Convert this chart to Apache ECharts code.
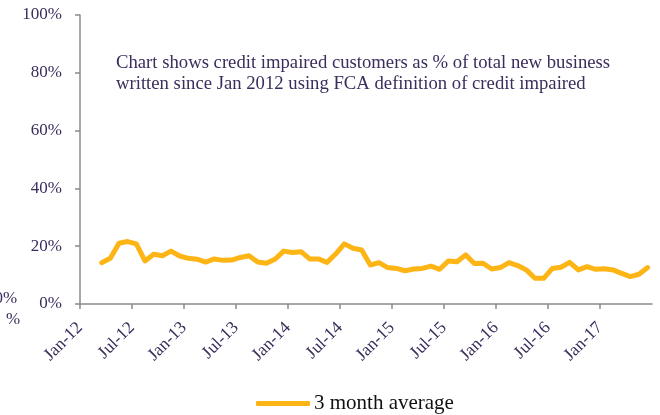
<!DOCTYPE html>
<html>
<head>
<meta charset="utf-8">
<script src="https://cdn.jsdelivr.net/npm/echarts@6/dist/echarts.min.js"></script>
<style>
  html, body { margin: 0; padding: 0; background: #ffffff; }
  #chart { width: 660px; height: 415px; }
</style>
</head>
<body>
<div id="chart"></div>
<script>
// Months on the axis: Jan-12 through Jun-17 (66 months)
const monthCount = 66;

// Tick labels every six months
const tickLabels = ['Jan-12','Jul-12','Jan-13','Jul-13','Jan-14','Jul-14','Jan-15','Jul-15','Jan-16','Jul-16','Jan-17'];

// 3 month average, % of new business, first value at Mar-12
const firstMonthIndex = 2;
const avg3m = [
  14.3, 15.8, 21.0, 21.6, 20.8, 14.9, 17.2, 16.7, 18.3, 16.6,
  15.8, 15.5, 14.5, 15.6, 15.1, 15.2, 16.1, 16.7, 14.5, 14.1,
  15.5, 18.3, 17.8, 18.1, 15.6, 15.6, 14.4, 17.3, 20.8, 19.3,
  18.7, 13.5, 14.3, 12.6, 12.3, 11.5, 12.1, 12.3, 13.1, 12.0,
  14.9, 14.6, 17.0, 14.0, 14.1, 12.1, 12.6, 14.3, 13.3, 11.8,
  8.9, 8.9, 12.3, 12.7, 14.4, 11.8, 12.9, 12.0, 12.2, 11.8,
  10.6, 9.5, 10.3, 12.6
];

const yTicks = [0, 20, 40, 60, 80, 100];

// each month sits in the middle of its band on the month axis
const points = avg3m.map((v, i) => [firstMonthIndex + i + 0.5, v]);

const purple = '#3b2d5c';
const axisGrey = '#8a8a8a';
const serif = '"Liberation Serif", "Times New Roman", serif';

const chart = echarts.init(document.getElementById('chart'), null, { renderer: 'canvas' });

chart.setOption({
  animation: false,
  backgroundColor: '#ffffff',
  grid: { left: 80, right: 8, top: 15, bottom: 111, containLabel: false },
  xAxis: {
    type: 'value',
    min: 0,
    max: monthCount,
    interval: 6,
    splitLine: { show: false },
    axisLine: { show: true, lineStyle: { color: axisGrey, width: 1.5 } },
    axisTick: { show: true, length: 5, lineStyle: { color: axisGrey, width: 1.5 } },
    axisLabel: {
      rotate: 45,
      margin: 21,
      padding: [18, 0, 0, 0],
      color: purple,
      fontFamily: serif,
      fontSize: 17.5,
      showMaxLabel: false,
      formatter: function (v) {
        const idx = Math.round(v / 6);
        return tickLabels[idx] || '';
      }
    }
  },
  yAxis: {
    type: 'value',
    min: 0,
    max: 100,
    interval: 20,
    splitLine: { show: false },
    axisLine: { show: true, lineStyle: { color: axisGrey, width: 1.5 } },
    axisTick: { show: true, inside: false, length: 5, lineStyle: { color: axisGrey, width: 1.5 } },
    axisLabel: {
      margin: 18,
      color: purple,
      fontFamily: serif,
      fontSize: 17,
      formatter: v => yTicks.includes(v) ? v + '%' : ''
    }
  },
  legend: {
    show: true,
    left: 251,
    top: 388,
    itemWidth: 54,
    itemHeight: 5,
    itemGap: 4,
    icon: 'roundRect',
    textStyle: { color: '#111111', fontFamily: serif, fontSize: 21, padding: [0, 0, 0, -1] },
    data: ['3 month average']
  },
  series: [{
    name: '3 month average',
    type: 'line',
    data: points,
    showSymbol: false,
    symbol: 'none',
    smooth: false,
    lineStyle: { color: '#fdb515', width: 5, cap: 'round', join: 'round' },
    itemStyle: { color: '#fdb515' }
  }],
  graphic: [
    {
      type: 'text', left: 116, top: 53,
      style: {
        text: 'Chart shows credit impaired customers as % of total new business\nwritten since Jan 2012 using FCA definition of credit impaired',
        fill: purple, font: '18.7px ' + serif, lineHeight: 21
      }
    },
    {
      type: 'text', left: -5.5, top: 290,
      style: { text: '0%', fill: purple, font: '17px ' + serif }
    },
    {
      type: 'text', left: 6, top: 311,
      style: { text: '%', fill: purple, font: '17px ' + serif }
    }
  ]
});
</script>
</body>
</html>
